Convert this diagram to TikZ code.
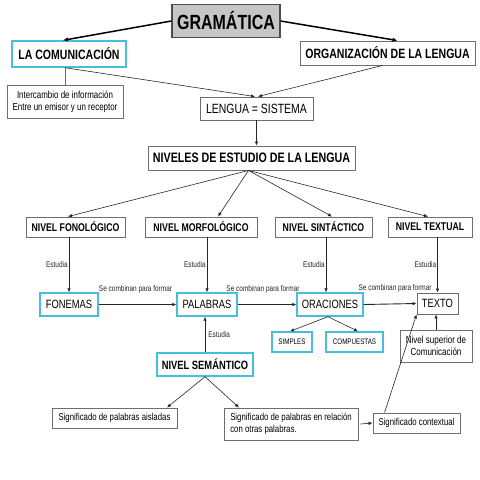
\documentclass[tikz,border=0pt]{standalone}
\usepackage{fontspec}
\setmainfont{Liberation Sans}[FakeStretch=0.78]
\usepackage{tikz}
\usetikzlibrary{positioning,calc,arrows.meta}
\definecolor{celeste}{RGB}{70,190,220}
\definecolor{gris}{RGB}{110,110,110}
\begin{document}
\begin{tikzpicture}[x=1pt,y=-1pt,
		gbox/.style={draw=gris,line width=0.9pt,fill=white,inner sep=0pt,align=center},
		cbox/.style={draw=celeste,line width=1.4pt,fill=white,inner sep=0pt,align=center},
		flecha/.style={-{Latex[length=4pt,width=3.5pt]},line width=0.6pt,draw=black!85},
		gruesa/.style={-{Latex[length=5pt,width=4.5pt]},line width=1.5pt},
		nota/.style={font=\fontsize{8.3}{9}\selectfont,text=black!85,inner sep=1pt}]
		\useasboundingbox (0,0) rectangle (480,480);
		\node[gbox,fill=gray!45,draw=black!70,line width=1.2pt,minimum width=108pt,minimum height=33pt,font=\fontsize{20.5}{22}\selectfont\bfseries] (gram) at (226,21) {GRAMÁTICA};
		\node[cbox,minimum width=114pt,minimum height=26pt,font=\fontsize{13.5}{15}\selectfont\bfseries] (com) at (69,54) {LA COMUNICACIÓN};
		\node[gbox,minimum width=175pt,minimum height=24pt,font=\fontsize{13.5}{15}\selectfont\bfseries] (org) at (387.5,53) {ORGANIZACIÓN DE LA LENGUA};
		\node[gbox,minimum width=116pt,minimum height=33pt,font=\fontsize{10.2}{12}\selectfont] (inter) at (65,101.5) {Intercambio de información\\Entre un emisor y un receptor};
		\node[gbox,minimum width=113pt,minimum height=23pt,font=\fontsize{13.4}{15}\selectfont] (lengua) at (256.5,108.5) {LENGUA = SISTEMA};
		\node[gbox,minimum width=207pt,minimum height=24pt,font=\fontsize{13.7}{15}\selectfont\bfseries] (niveles) at (251.5,158) {NIVELES DE ESTUDIO DE LA LENGUA};
		
		\node[gbox,minimum width=99pt,minimum height=20pt,font=\fontsize{11.2}{13}\selectfont\bfseries] (fono) at (75.5,227) {NIVEL FONOLÓGICO};
		\node[gbox,minimum width=112pt,minimum height=20pt,font=\fontsize{11.2}{13}\selectfont\bfseries] (morf) at (201,227) {NIVEL MORFOLÓGICO};
		\node[gbox,minimum width=97pt,minimum height=20pt,font=\fontsize{11.2}{13}\selectfont\bfseries] (sint) at (323.5,227) {NIVEL SINTÁCTICO};
		\node[gbox,minimum width=84pt,minimum height=20pt,font=\fontsize{11.2}{13}\selectfont\bfseries] (textual) at (430,227) {NIVEL TEXTUAL};
		
		\node[cbox,minimum width=58pt,minimum height=23pt,font=\fontsize{12}{14}\selectfont] (fonemas) at (69,304.5) {FONEMAS};
		\node[cbox,minimum width=60pt,minimum height=23pt,font=\fontsize{12}{14}\selectfont] (palabras) at (207,304.5) {PALABRAS};
		\node[cbox,minimum width=66pt,minimum height=23pt,font=\fontsize{12}{14}\selectfont] (oraciones) at (330,304.5) {ORACIONES};
		\node[gbox,minimum width=41pt,minimum height=21pt,font=\fontsize{12}{14}\selectfont] (texto) at (437.5,303.5) {TEXTO};
		
		\node[cbox,minimum width=40pt,minimum height=20pt,font=\fontsize{8}{9}\selectfont] (simples) at (292,342) {SIMPLES};
		\node[cbox,minimum width=57pt,minimum height=20pt,font=\fontsize{8}{9}\selectfont] (compuestas) at (354.5,342) {COMPUESTAS};
		\node[gbox,minimum width=72pt,minimum height=32pt,font=\fontsize{10.3}{12}\selectfont] (superior) at (436,346) {Nivel superior de\\Comunicación};
		\node[cbox,minimum width=96pt,minimum height=23pt,font=\fontsize{12}{14}\selectfont\bfseries] (sem) at (205,364.5) {NIVEL SEMÁNTICO};
		
		\node[gbox,minimum width=125pt,minimum height=20pt,font=\fontsize{10}{12}\selectfont] (aisladas) at (114.5,418) {Significado de palabras aisladas};
		\node[gbox,minimum width=134pt,minimum height=32pt,align=left,font=\fontsize{10}{12}\selectfont] (relacion) at (291,424) {Significado de palabras en relación\\con otras palabras.};
		\node[gbox,minimum width=87pt,minimum height=20pt,font=\fontsize{10}{12}\selectfont] (contextual) at (416.5,423) {Significado contextual};
		
		% conectores de arriba
		\draw[gruesa] (gram.west) -- ([xshift=-6pt]com.north);
		\draw[gruesa] (gram.east) -- ([xshift=10pt]org.north);
		\draw[flecha] ([xshift=-4pt]com.south) -- ([xshift=-1.5pt]lengua.north);
		\draw[flecha] ([xshift=-5pt]org.south) -- ([xshift=1.5pt]lengua.north);
		\draw[gris,line width=0.9pt] (com.south -| inter.north) -- (inter.north);
		\draw[flecha] (lengua.south) -- (lengua.south |- niveles.north);
		
		% niveles
		\draw[flecha] ([xshift=-3pt]niveles.south) -- ([xshift=-7.5pt]fono.north);
		\draw[flecha] ([xshift=-3pt]niveles.south) -- ([xshift=17pt]morf.north);
		\draw[flecha] ([xshift=-3pt]niveles.south) -- ([xshift=8.5pt]sint.north);
		\draw[flecha] ([xshift=-3pt]niveles.south) -- ([xshift=-2pt]textual.north);
		
		\draw[flecha] (fono.south -| fonemas.north) -- node[nota,midway,left] {Estudia} (fonemas.north);
		\draw[flecha] (morf.south -| palabras.north) -- node[nota,midway,left] {Estudia} (palabras.north);
		\draw[flecha] ([xshift=-4pt]sint.south -| oraciones.north) -- node[nota,midway,left] {Estudia} ([xshift=-4pt]oraciones.north);
		\draw[flecha] (textual.south -| texto.north) -- node[nota,midway,left] {Estudia} (texto.north);
		
		% se combinan
		\draw[flecha] (fonemas.east) -- node[nota,midway,above=10pt,xshift=-2pt] {Se combinan para formar} (palabras.west);
		\draw[flecha] (palabras.east) -- node[nota,midway,above=10pt,xshift=-4pt] {Se combinan para formar} (oraciones.west);
		\draw[flecha,line width=0.9pt] (oraciones.east) -- node[nota,midway,above=10pt,xshift=5pt] {Se combinan para formar} (texto.west);
		
		\draw[flecha] ([xshift=-2pt]oraciones.south) -- ([xshift=-2pt]simples.north);
		\draw[flecha] ([xshift=-2pt]oraciones.south) -- ([xshift=3.5pt]compuestas.north);
		\draw[flecha] (sem.north) -- node[nota,midway,right,xshift=2pt] {Estudia} (sem.north |- palabras.south);
		\draw[flecha] (superior.north) -- (superior.north |- texto.south);
		\draw[flecha] ([xshift=12pt]contextual.north west) -- (texto.south west);
		
		% semantico
		\draw[flecha] (sem.south) -- ([xshift=52.5pt]aisladas.north);
		\draw[flecha] (sem.south) -- ([xshift=-52pt]relacion.north);
		\draw[flecha] ([xshift=2pt]relacion.east) -- (contextual.west);
	\end{tikzpicture}
\end{document}
